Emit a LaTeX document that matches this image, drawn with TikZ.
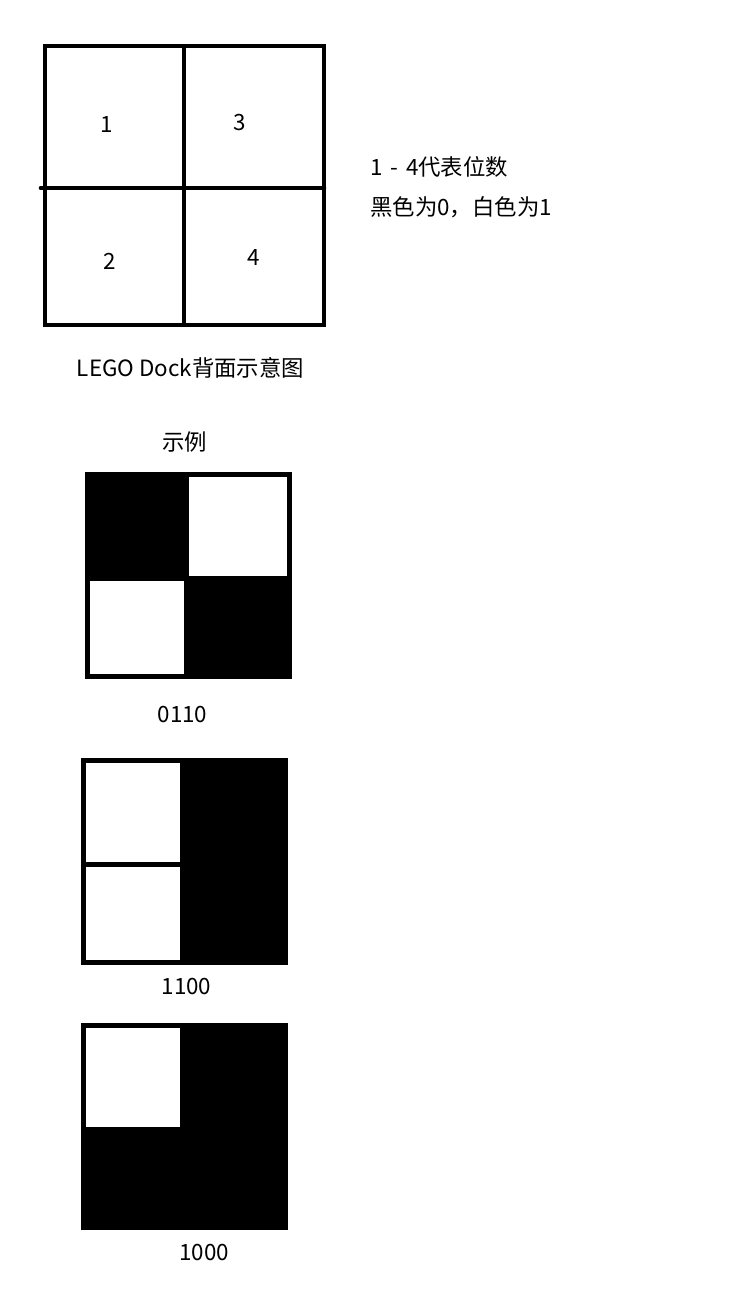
\documentclass[tikz,border=0pt]{standalone}
\usepackage{fontspec}
\setmainfont{Noto Sans CJK SC}
\tikzset{
  gridline/.style={line width=3.5pt, line cap=rect},
  lbl/.style={inner sep=0pt, font=\fontsize{16.8pt}{19pt}\selectfont},
  blackcell/.style={fill=black},
  whitecell/.style={fill=white},
}
\begin{document}
\begin{tikzpicture}[x=0.75pt,y=-0.75pt]
\useasboundingbox (0,0) rectangle (747,1314);
% top grid
\draw[gridline] (45,46) rectangle (324,325);
\draw[gridline] (184,46) -- (184,325);
\draw[gridline, line cap=round] (41,188) -- (324,188);
\node[lbl] (n1) at (107,125) {1};
\node[lbl] (n3) at (240,123) {3};
\node[lbl] (n2) at (110,261) {2};
\node[lbl] (n4) at (254,258) {4};
% legend
\node[lbl, anchor=west] (leg1) at (370,167) {1\hspace{0.35em}-\hspace{0.35em}4代表位数};
\node[lbl, anchor=west] (leg2) at (370,207) {黑色为0，白色为1};
\node[lbl] (cap) at (190.5,368) {LEGO Dock背面示意图};
\node[lbl] (ex) at (184.5,442) {示例};
% example 0110
\fill[blackcell] (85,472) rectangle (292,679);
\fill[whitecell] (189,477) rectangle (287,576);
\fill[whitecell] (90,581) rectangle (184,674);
\node[lbl] (c1) at (182.5,715) {0110};
% example 1100
\fill[blackcell] (81,758) rectangle (288,965);
\fill[whitecell] (86,763) rectangle (180,862);
\fill[whitecell] (86,867) rectangle (180,960);
\node[lbl] (c2) at (186.5,987) {1100};
% example 1000
\fill[blackcell] (81,1023) rectangle (288,1230);
\fill[whitecell] (86,1028) rectangle (180,1127);
\node[lbl] (c3) at (204,1252) {1000};
\end{tikzpicture}
\end{document}
